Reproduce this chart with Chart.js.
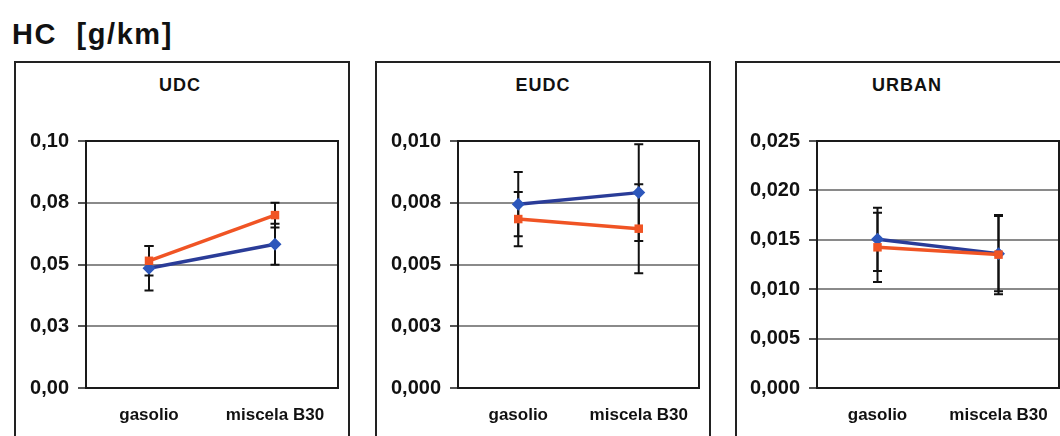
<!DOCTYPE html>
<html>
<head>
<meta charset="utf-8">
<script src="https://cdn.jsdelivr.net/npm/chart.js@4/dist/chart.umd.min.js"></script>
<style>
  html, body { margin: 0; padding: 0; background: #fff; width: 1060px; height: 436px; overflow: hidden; }
  body { position: relative; font-family: "Liberation Sans", Arial, sans-serif; }
  #mainTitle { position: absolute; left: 12px; top: 18px; font-size: 29px; font-weight: bold; color: #111; white-space: pre; letter-spacing: 1.6px; }
  .panel { position: absolute; top: 61px; height: 400px; border: 2px solid #222; box-sizing: border-box; background: #fff; }
  .ptitle { position: absolute; top: 75px; font-size: 18px; font-weight: bold; color: #111; text-align: center; width: 200px; letter-spacing: 1px; }
</style>
</head>
<body>
<div id="mainTitle">HC  [g/km]</div>
<div class="panel" style="left:14px;width:336px;"></div>
<div class="panel" style="left:375px;width:336px;"></div>
<div class="panel" style="left:735px;width:336px;"></div>
<div class="ptitle" style="left:80px;">UDC</div>
<div class="ptitle" style="left:443px;">EUDC</div>
<div class="ptitle" style="left:807px;">URBAN</div>
<div style="position:absolute;left:14px;top:61px;width:335px;height:375px;"><canvas id="c1" width="335" height="375"></canvas></div>
<div style="position:absolute;left:375px;top:61px;width:335px;height:375px;"><canvas id="c2" width="335" height="375"></canvas></div>
<div style="position:absolute;left:735px;top:61px;width:335px;height:375px;"><canvas id="c3" width="335" height="375"></canvas></div>
<script>
// ---- data ----
const categories = ['gasolio', 'miscela B30'];
const seriesNames = ['gasolio', 'miscela B30 (blend)'];

const udcBlue = [0.0485, 0.0582];
const udcBlueErr = [0.0090, 0.0083];
const udcOrange = [0.0515, 0.0700];
const udcOrangeErr = [0.0060, 0.0050];
const udcTickValues = [0, 0.025, 0.05, 0.075, 0.1];
const udcTickLabels = ['0,00', '0,03', '0,05', '0,08', '0,10'];

const eudcBlue = [0.00744, 0.00791];
const eudcBlueErr = [0.00130, 0.00196];
const eudcOrange = [0.00684, 0.00645];
const eudcOrangeErr = [0.00110, 0.00180];
const eudcTickValues = [0, 0.0025, 0.005, 0.0075, 0.01];
const eudcTickLabels = ['0,000', '0,003', '0,005', '0,008', '0,010'];

const urbanBlue = [0.01505, 0.01360];
const urbanBlueErr = [0.00320, 0.00380];
const urbanOrange = [0.01424, 0.01350];
const urbanOrangeErr = [0.00350, 0.00400];
const urbanTickValues = [0, 0.005, 0.01, 0.015, 0.02, 0.025];
const urbanTickLabels = ['0,000', '0,005', '0,010', '0,015', '0,020', '0,025'];

// ---- styles ----
const BLUE_LINE = '#2a3c98';
const BLUE_PT = '#2d57bb';
const ORANGE = '#f05424';
const FONT = '"Liberation Sans", Arial, sans-serif';

const errorBarPlugin = {
  id: 'errorBars',
  beforeDatasetsDraw(chart) {
    const ctx = chart.ctx;
    const yScale = chart.scales.y;
    ctx.save();
    ctx.strokeStyle = '#111';
    ctx.lineWidth = 2;
    chart.data.datasets.forEach((ds, di) => {
      const meta = chart.getDatasetMeta(di);
      ds.errors.forEach((e, i) => {
        const x = meta.data[i].x;
        const v = ds.data[i];
        const yTop = yScale.getPixelForValue(v + e);
        const yBot = yScale.getPixelForValue(v - e);
        ctx.beginPath();
        ctx.moveTo(x, yTop); ctx.lineTo(x, yBot);
        ctx.moveTo(x - 4.5, yTop); ctx.lineTo(x + 4.5, yTop);
        ctx.moveTo(x - 4.5, yBot); ctx.lineTo(x + 4.5, yBot);
        ctx.stroke();
      });
    });
    ctx.restore();
  }
};

const framePlugin = {
  id: 'frame',
  afterDraw(chart) {
    const a = chart.chartArea;
    const ctx = chart.ctx;
    ctx.save();
    ctx.strokeStyle = '#1a1a1a';
    ctx.lineWidth = 2;
    ctx.strokeRect(a.left, a.top, a.right - a.left, a.bottom - a.top);
    ctx.restore();
  }
};

function makeChart(id, blue, blueErr, orange, orangeErr, tickValues, tickLabels, axisWidth) {
  const max = tickValues[tickValues.length - 1];
  return new Chart(document.getElementById(id), {
    type: 'line',
    data: {
      labels: categories,
      datasets: [
        {
          label: seriesNames[1],
          data: orange,
          errors: orangeErr,
          borderColor: ORANGE,
          backgroundColor: ORANGE,
          borderWidth: 3.5,
          pointStyle: 'rect',
          pointRadius: 6,
          pointBorderWidth: 0,
          order: 0
        },
        {
          label: seriesNames[0],
          data: blue,
          errors: blueErr,
          borderColor: BLUE_LINE,
          backgroundColor: BLUE_PT,
          pointBackgroundColor: BLUE_PT,
          borderWidth: 3.5,
          pointStyle: 'rectRot',
          pointRadius: 6.5,
          pointBorderWidth: 0,
          order: 1
        }
      ]
    },
    options: {
      responsive: false,
      animation: false,
      devicePixelRatio: 1,
      layout: { padding: { left: 0, right: 11, top: 80, bottom: 0 } },
      plugins: { legend: { display: false }, title: { display: false }, tooltip: { enabled: false } },
      scales: {
        x: {
          type: 'category',
          offset: true,
          grid: { display: false, drawTicks: false },
          border: { display: false },
          ticks: {
            color: '#111',
            padding: 17,
            font: { family: FONT, size: 17, weight: 'bold' },
            maxRotation: 0
          },
          afterFit(scale) { scale.height = 48; }
        },
        y: {
          min: 0,
          max: max,
          afterBuildTicks(scale) { scale.ticks = tickValues.map(v => ({ value: v })); },
          grid: { color: '#8a8a8a', lineWidth: 2, drawTicks: true, tickLength: 8, tickColor: '#555' },
          border: { display: false },
          ticks: {
            color: '#111',
            padding: 9,
            font: { family: FONT, size: 20, weight: 'bold' },
            callback(value, index) { return tickLabels[index]; }
          },
          afterFit(scale) { scale.width = axisWidth; }
        }
      }
    },
    plugins: [errorBarPlugin, framePlugin]
  });
}

makeChart('c1', udcBlue, udcBlueErr, udcOrange, udcOrangeErr, udcTickValues, udcTickLabels, 72);
makeChart('c2', eudcBlue, eudcBlueErr, eudcOrange, eudcOrangeErr, eudcTickValues, eudcTickLabels, 83);
makeChart('c3', urbanBlue, urbanBlueErr, urbanOrange, urbanOrangeErr, urbanTickValues, urbanTickLabels, 82);
</script>
</body>
</html>
